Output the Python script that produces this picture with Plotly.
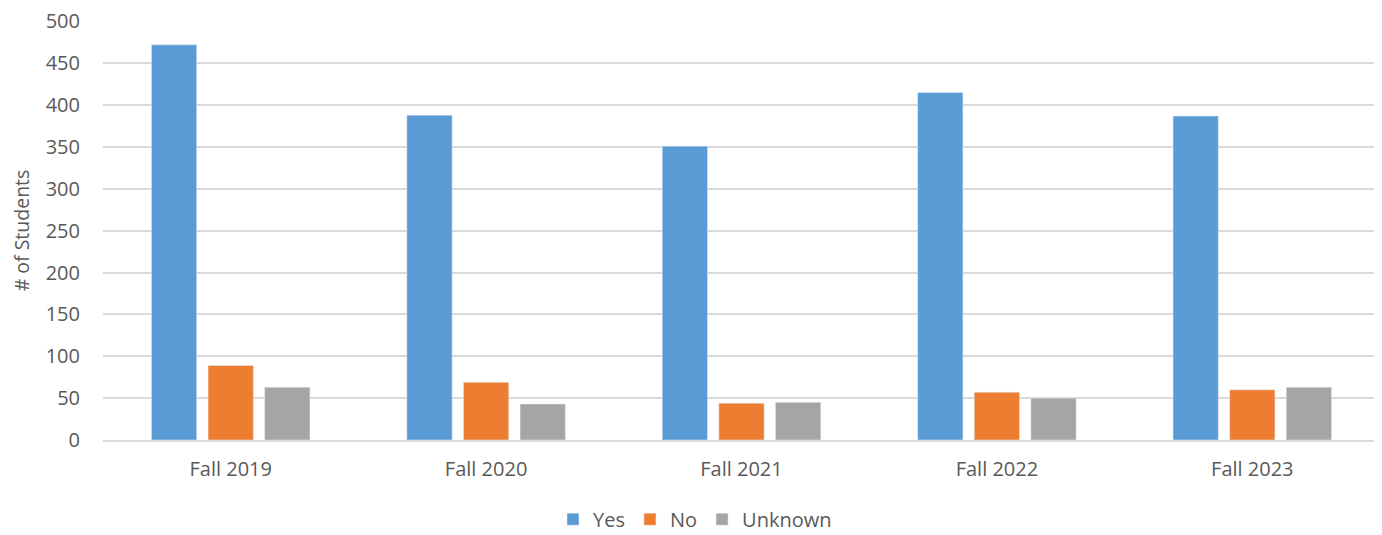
import plotly.graph_objects as go

categories = ["Fall 2019", "Fall 2020", "Fall 2021", "Fall 2022", "Fall 2023"]
yes_vals = [472, 388, 351, 415, 387]
no_vals = [89, 69, 44, 57, 60]
unknown_vals = [63, 43, 45, 50, 63]
y_ticks = [0, 50, 100, 150, 200, 250, 300, 350, 400, 450, 500]

font_fam = "Open Sans, Liberation Sans, sans-serif"
txt = "#595959"

fig = go.Figure()
fig.add_trace(go.Bar(name="Yes", x=categories, y=yes_vals, marker_color="#5B9BD5"))
fig.add_trace(go.Bar(name="No", x=categories, y=no_vals, marker_color="#ED7D31"))
fig.add_trace(go.Bar(name="Unknown", x=categories, y=unknown_vals, marker_color="#A5A5A5"))

fig.update_layout(
    width=1374, height=527,
    barmode="group", bargap=0.335, bargroupgap=0.2,
    paper_bgcolor="white", plot_bgcolor="white",
    margin=dict(l=95, r=2, t=13, b=95),
    font=dict(family=font_fam, size=20, color=txt),
    legend=dict(orientation="h", xref="container", yref="container",
                x=0.5, xanchor="center", y=0.03, yanchor="middle",
                font=dict(size=20, color=txt), itemwidth=30, traceorder="normal"),
    xaxis=dict(showline=True, linecolor="#D9D9D9", linewidth=2, ticks="",
               automargin=False,
               tickfont=dict(size=20, color=txt), ticklabelstandoff=10),
    yaxis=dict(range=[0, 500.5], tickvals=y_ticks, showgrid=True, gridcolor="#D9D9D9",
               gridwidth=1.5, zeroline=False, tickfont=dict(size=20, color=txt),
               automargin=False,
               ticklabelstandoff=22, ticklabeloverflow="allow",
               title=dict(text="# of Students", font=dict(size=19.5, color=txt), standoff=10)),
)

fig.write_html("out.html")
